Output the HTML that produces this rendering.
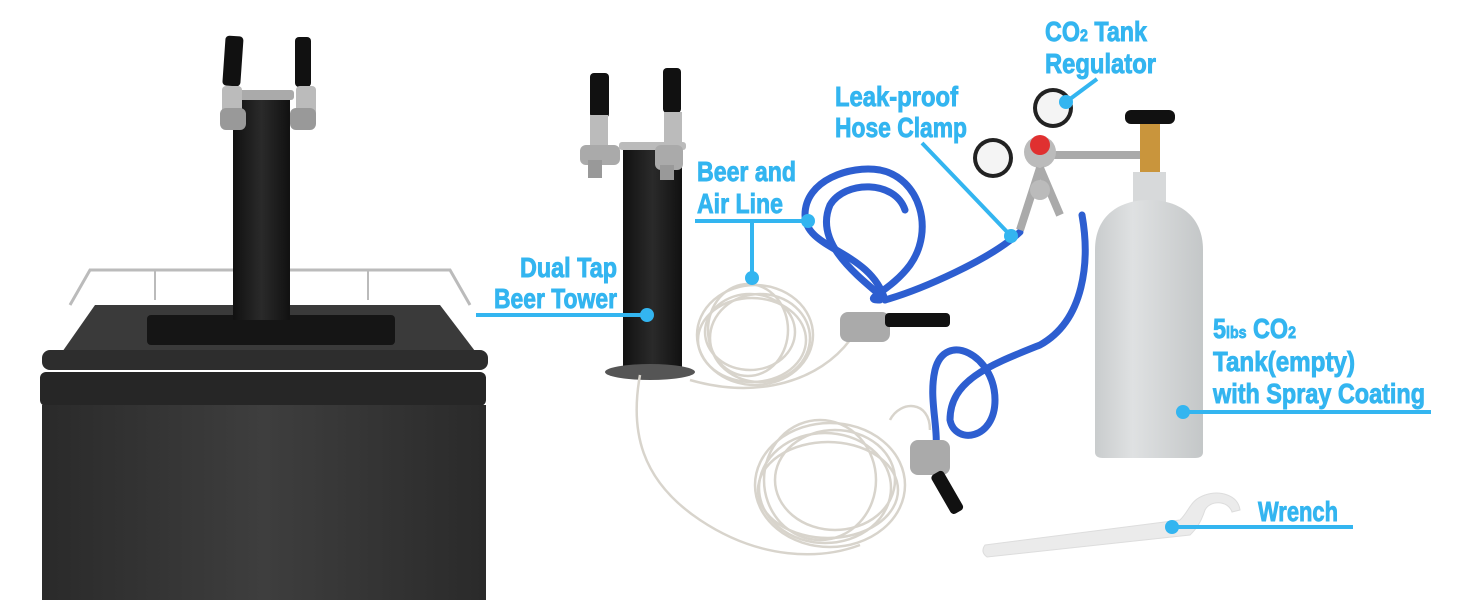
<!DOCTYPE html>
<html><head><meta charset="utf-8"><style>
html,body{margin:0;padding:0;background:#fff;}
svg{display:block;}
text{font-family:"Liberation Sans Narrow","Liberation Sans",sans-serif;font-weight:bold;fill:#33b5f0;stroke:#33b5f0;stroke-width:0.9;font-size:28px;}
</style></head><body>
<svg width="1464" height="600" viewBox="0 0 1464 600" xmlns="http://www.w3.org/2000/svg">
<defs>
<linearGradient id="bodyg" x1="0" x2="1"><stop offset="0" stop-color="#2a2a2a"/><stop offset="0.5" stop-color="#3e3e3e"/><stop offset="1" stop-color="#2a2a2a"/></linearGradient>
<linearGradient id="tank" x1="0" x2="1"><stop offset="0" stop-color="#c9cccd"/><stop offset="0.35" stop-color="#dfe1e2"/><stop offset="1" stop-color="#c4c7c8"/></linearGradient>
<linearGradient id="tw" x1="0" x2="1"><stop offset="0" stop-color="#111"/><stop offset="0.5" stop-color="#2a2a2a"/><stop offset="1" stop-color="#111"/></linearGradient>
</defs>

<!-- Fridge -->
<path d="M70 305 L90 270 L450 270 L470 305" fill="none" stroke="#bbb" stroke-width="3"/>
<line x1="155" y1="270" x2="155" y2="300" stroke="#bbb" stroke-width="2"/>
<line x1="368" y1="270" x2="368" y2="300" stroke="#bbb" stroke-width="2"/>
<path d="M60 355 L95 305 L440 305 L478 355 Z" fill="#3a3a3a"/>
<rect x="42" y="350" width="446" height="20" rx="8" fill="#2d2d2d"/>
<rect x="40" y="372" width="446" height="34" rx="6" fill="#262626"/>
<rect x="42" y="405" width="444" height="195" fill="url(#bodyg)"/>
<rect x="147" y="315" width="248" height="30" rx="4" fill="#151515"/>
<rect x="233" y="96" width="57" height="224" fill="url(#tw)"/>
<rect x="228" y="90" width="66" height="10" rx="3" fill="#aaa"/>
<rect x="224" y="36" width="18" height="50" rx="4" fill="#111" transform="rotate(4 233 60)"/>
<rect x="295" y="37" width="16" height="50" rx="4" fill="#111"/>
<rect x="222" y="86" width="20" height="40" rx="4" fill="#bbb"/>
<rect x="296" y="86" width="20" height="40" rx="4" fill="#bbb"/>
<rect x="220" y="108" width="26" height="22" rx="6" fill="#999"/>
<rect x="290" y="108" width="26" height="22" rx="6" fill="#999"/>

<!-- Tower 2 -->
<rect x="623" y="145" width="59" height="228" fill="url(#tw)"/>
<rect x="619" y="142" width="67" height="8" rx="3" fill="#bbb"/>
<ellipse cx="650" cy="372" rx="45" ry="8" fill="#555"/>
<rect x="590" y="73" width="19" height="45" rx="4" fill="#111"/>
<rect x="663" y="68" width="18" height="45" rx="4" fill="#111"/>
<rect x="590" y="115" width="18" height="30" fill="#bbb"/>
<rect x="664" y="112" width="18" height="30" fill="#bbb"/>
<rect x="580" y="145" width="40" height="20" rx="6" fill="#aaa"/>
<rect x="655" y="145" width="28" height="25" rx="6" fill="#aaa"/>
<rect x="588" y="160" width="14" height="18" fill="#999"/>
<rect x="660" y="165" width="14" height="15" fill="#999"/>

<!-- Clear tubing -->
<g fill="none" stroke="#d8d4cc" stroke-width="2.5">
<ellipse cx="755" cy="335" rx="58" ry="50"/><ellipse cx="760" cy="338" rx="50" ry="44"/><ellipse cx="750" cy="332" rx="45" ry="38"/><ellipse cx="752" cy="340" rx="54" ry="42"/><ellipse cx="748" cy="330" rx="40" ry="46"/>
<ellipse cx="830" cy="485" rx="75" ry="62"/><ellipse cx="825" cy="488" rx="66" ry="55"/><ellipse cx="835" cy="480" rx="60" ry="50"/><ellipse cx="828" cy="490" rx="70" ry="48"/><ellipse cx="820" cy="480" rx="56" ry="60"/>
<path d="M640 375 C630 430 640 480 700 520 C760 560 820 560 860 545"/>
<path d="M690 380 C760 400 820 380 850 340"/>
<path d="M890 420 C900 400 930 400 930 430"/>
</g>

<!-- Blue hoses -->
<g fill="none" stroke="#2d5ed0" stroke-width="7" stroke-linecap="round">
<path d="M885 300 C870 250 805 250 805 215 C805 180 850 165 880 170 C920 178 935 230 910 265 C890 292 860 300 880 300"/>
<path d="M880 295 C850 270 815 240 830 205 C845 180 895 180 905 210"/>
<path d="M885 300 C920 290 990 260 1020 232"/>
<path d="M1082 215 C1090 260 1085 320 1040 345 C990 365 950 380 950 420 C955 445 995 440 995 400 C995 355 945 330 935 370 C928 400 940 430 935 455"/>
</g>

<!-- Couplers -->
<rect x="840" y="312" width="50" height="30" rx="8" fill="#aaa"/>
<rect x="885" y="313" width="65" height="14" rx="4" fill="#111"/>
<rect x="910" y="440" width="40" height="35" rx="8" fill="#aaa"/>
<rect x="940" y="470" width="14" height="45" rx="4" fill="#111" transform="rotate(-30 947 492)"/>

<!-- Regulator -->
<line x1="1050" y1="155" x2="1140" y2="155" stroke="#aaa" stroke-width="8"/>
<circle cx="1040" cy="152" r="16" fill="#bbb"/>
<circle cx="1040" cy="145" r="10" fill="#e03030"/>
<circle cx="1053" cy="108" r="20" fill="#222"/><circle cx="1053" cy="108" r="16" fill="#f4f4f4"/>
<circle cx="993" cy="158" r="20" fill="#222"/><circle cx="993" cy="158" r="16" fill="#f4f4f4"/>
<path d="M1040 168 L1020 230 M1040 168 L1060 215" stroke="#aaa" stroke-width="8"/>
<circle cx="1040" cy="190" r="10" fill="#bbb"/>

<!-- Tank -->
<rect x="1125" y="110" width="50" height="14" rx="6" fill="#111"/>
<rect x="1140" y="124" width="20" height="50" fill="#c9953c"/>
<rect x="1133" y="172" width="33" height="36" fill="#d7d9da"/>
<path d="M1095 250 C1095 215 1120 200 1149 200 C1178 200 1203 215 1203 250 L1203 452 Q1203 458 1195 458 L1103 458 Q1095 458 1095 452 Z" fill="url(#tank)"/>

<!-- Wrench -->
<path d="M985 545 L1180 520 C1190 510 1190 500 1205 495 C1220 490 1238 495 1240 510 L1232 512 C1228 500 1210 500 1205 510 C1200 525 1195 530 1190 535 L987 557 Q980 552 985 545 Z" fill="#ebebeb" stroke="#ddd"/>

<!-- Labels -->
<g stroke="#33b5f0" stroke-width="4" fill="none">
<line x1="476" y1="315" x2="647" y2="315"/>
<line x1="695" y1="221" x2="808" y2="221"/>
<line x1="752" y1="221" x2="752" y2="278"/>
<line x1="922" y1="143" x2="1011" y2="236"/>
<line x1="1097" y1="79" x2="1066" y2="102"/>
<line x1="1183" y1="412" x2="1431" y2="412"/>
<line x1="1172" y1="527" x2="1353" y2="527"/>
</g>
<g fill="#33b5f0">
<circle cx="647" cy="315" r="7"/><circle cx="808" cy="221" r="7"/><circle cx="752" cy="278" r="7"/>
<circle cx="1011" cy="236" r="7"/><circle cx="1066" cy="102" r="7"/><circle cx="1183" cy="412" r="7"/><circle cx="1172" cy="527" r="7"/>
</g>
<text x="520" y="277" textLength="97" lengthAdjust="spacingAndGlyphs">Dual Tap</text>
<text x="494" y="308" textLength="123" lengthAdjust="spacingAndGlyphs">Beer Tower</text>
<text x="697" y="181" textLength="99" lengthAdjust="spacingAndGlyphs">Beer and</text>
<text x="697" y="213" textLength="86" lengthAdjust="spacingAndGlyphs">Air Line</text>
<text x="835" y="106" textLength="123" lengthAdjust="spacingAndGlyphs">Leak-proof</text>
<text x="835" y="137" textLength="132" lengthAdjust="spacingAndGlyphs">Hose Clamp</text>
<text x="1045" y="41" textLength="102" lengthAdjust="spacingAndGlyphs">CO<tspan font-size="17">2</tspan> Tank</text>
<text x="1045" y="73" textLength="111" lengthAdjust="spacingAndGlyphs">Regulator</text>
<text x="1213" y="338" textLength="83" lengthAdjust="spacingAndGlyphs">5<tspan font-size="17">lbs</tspan> CO<tspan font-size="17">2</tspan></text>
<text x="1213" y="371" textLength="142" lengthAdjust="spacingAndGlyphs">Tank(empty)</text>
<text x="1213" y="403" textLength="212" lengthAdjust="spacingAndGlyphs">with Spray Coating</text>
<text x="1258" y="521" textLength="80" lengthAdjust="spacingAndGlyphs">Wrench</text>
</svg>
</body></html>
